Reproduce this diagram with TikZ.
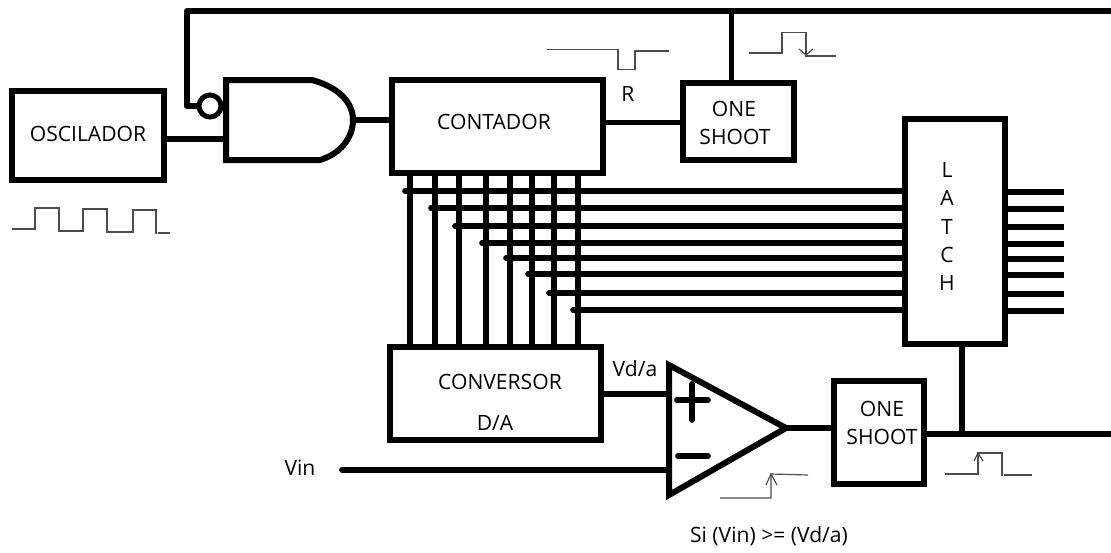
\documentclass[tikz,border=0pt]{standalone}
\usepackage{fontspec}
\setmainfont{Open Sans}
\usetikzlibrary{positioning,calc}
\tikzset{
  block box/.style={draw=black,line width=0.18cm,inner sep=0pt,fill=none},
  block text/.style={inner sep=0pt,font=\fontsize{18}{20}\selectfont},
  thickwire/.style={draw=black,line width=0.175cm},
  buswire/.style={draw=black,line width=0.17cm},
  dotwire/.style={buswire,line cap=round},
  gateline/.style={draw=black,line width=0.18cm,line join=miter},
  wave/.style={draw=black!70,line width=0.035cm}
}
\begin{document}
\begin{tikzpicture}[x=0.03cm,y=-0.03cm]
  \useasboundingbox (0,0) rectangle (1111,552);

  % blocks
  \node[block box,minimum width=4.53cm,minimum height=2.655cm] (oscilador) at (88,135.5) {};
  \node[block box,minimum width=6.33cm,minimum height=2.79cm] (contador) at (497.5,126.5) {};
  \node[block box,minimum width=3.33cm,minimum height=2.31cm] (shootR) at (738.5,121.5) {};
  \node[block box,minimum width=3cm,minimum height=6.75cm] (latch) at (955,231.5) {};
  \node[block box,minimum width=6.33cm,minimum height=2.79cm] (conversor) at (495.5,393.5) {};
  \node[block box,minimum width=2.7cm,minimum height=3.09cm] (shootQ) at (879,432.5) {};

  % block texts
  \node[block text] (osciladortext) at (88,134) {OSCILADOR};
  \node[block text] (contadortext) at (494,122) {CONTADOR};
  \node[block text] (shootRa) at (734,109) {ONE};
  \node[block text] (shootRb) at (735,137) {SHOOT};
  \node[block text] (conversora) at (500,382) {CONVERSOR};
  \node[block text] (conversorb) at (495,423) {D/A};
  \node[block text] (shootQa) at (882,409) {ONE};
  \node[block text] (shootQb) at (882,437) {SHOOT};
  \foreach \c/\yy in {L/170,A/198,T/227,C/255,H/283}{\node[block text] (latch\c) at (947,\yy) {\c};}
  \node[block text] (rlabel) at (628,94) {R};
  \node[block text] (vdalabel) at (635,369) {Vd/a};
  \node[block text] (vinlabel) at (300,468) {Vin};
  \node[block text] (silabel) at (769,536) {Si (Vin) >= (Vd/a)};

  % nand gate with bubble
  \coordinate (gateNW) at (226,80);
  \coordinate (gateSW) at (226,160);
  \coordinate (gateout) at (353,120);
  \draw[gateline] (gateSW) -- (gateNW) -- (312,80) .. controls (338,87) and (353,102) .. (gateout)
    .. controls (353,138) and (340,154) .. (320,160) -- cycle;
  \node[circle,draw=black,line width=0.15cm,minimum size=0.66cm,inner sep=0pt] (bubble) at (210,106) {};

  % comparator
  \coordinate (compN) at (669,365);
  \coordinate (compS) at (669,495);
  \coordinate (compout) at (786,428);
  \draw[gateline] (compN) -- (compout) -- (compS) -- cycle;
  \coordinate (plusN) at (692,384);
  \coordinate (plusS) at (692,420);
  \coordinate (plusW) at (677,400);
  \coordinate (plusE) at (708,400);
  \coordinate (minusW) at (678,456);
  \coordinate (minusE) at (708,456);
  \draw[thickwire,line cap=round] (plusN) -- (plusS);
  \draw[thickwire,line cap=round] (plusW) -- (plusE);
  \draw[thickwire,line cap=round] (minusW) -- (minusE);

  % feedback and single wires
  \coordinate (topright) at (1111,11);
  \coordinate (topleft) at (187,11);
  \coordinate (bubblein) at (187,106);
  \coordinate (droptop) at (731.5,11);
  \draw[thickwire,line join=round] (topright) -- (topleft) -- (bubblein) -- (bubble.west);
  \draw[thickwire] (droptop) -- (shootR.north -| droptop);
  \coordinate (gatein) at (226,139);
  \draw[thickwire] (oscilador.east |- gatein) -- (gatein);
  \draw[thickwire] (gateout) -- (contador.west |- gateout);
  \coordinate (rwire) at (640,122.5);
  \draw[thickwire] (contador.east |- rwire) -- (shootR.west |- rwire);

  % counter bus to converter and latch
  \foreach \n/\xv/\xs/\yl/\yr in {1/410/405/191/192,2/435/431/208/209,3/459/455/226/227,4/486/482/243/244,5/510/506/258/259,6/532/528/274/275,7/554/549/293/294,8/578/573/310/311}{
    \coordinate (bit\n) at (\xv,\yl);
    \coordinate (tap\n) at (\xs,\yl);
    \coordinate (out\n) at (1064,\yr);
    \draw[buswire] (contador.south -| bit\n) -- (conversor.north -| bit\n);
    \draw[dotwire] (tap\n) -- (latch.west |- tap\n);
    \draw[buswire] (latch.east |- out\n) -- (out\n);
  }

  % comparator wires
  \coordinate (pluswire) at (669,394);
  \coordinate (vinwire) at (669,470);
  \coordinate (vinstart) at (342,470);
  \draw[thickwire] (conversor.east |- pluswire) -- (pluswire);
  \draw[thickwire,line cap=round] (vinstart) -- (vinwire);
  \draw[thickwire] (compout) -- (shootQ.west |- compout);
  \coordinate (outright) at (1111,434);
  \coordinate (outtap) at (962,434);
  \draw[thickwire] (shootQ.east |- outright) -- (outright);
  \draw[thickwire] (latch.south -| outtap) -- (outtap);

  % waveforms
  \draw[wave] (12,229) -- (35,229) -- (35,208) -- (59,208) -- (59,231) -- (83,231) -- (83,209) -- (107,209)
    -- (107,232) -- (133,232) -- (133,210) -- (156,210) -- (156,234);
  \draw[wave] (158,233) -- (170,233);
  \draw[wave] (547,49.5) -- (618,49.5) -- (618,69.5) -- (635,69.5) -- (635,51) -- (669,51);
  \draw[wave] (749,53) -- (782,53) -- (782,32.5) -- (806,32.5) -- (806,56) -- (836,56);
  \draw[wave] (799,49) -- (806,55) -- (813,49);
  \draw[wave] (720,498) -- (771,498) -- (771,474) -- (808,475);
  \draw[wave] (766,485) -- (771,474) -- (777,485);
  \draw[wave] (945,474) -- (978,474) -- (978,453) -- (1002,453) -- (1002,476);
  \draw[wave] (1004,475) -- (1032,475);
  \draw[wave] (974,461) -- (978,453) -- (983,461);
\end{tikzpicture}
\end{document}
